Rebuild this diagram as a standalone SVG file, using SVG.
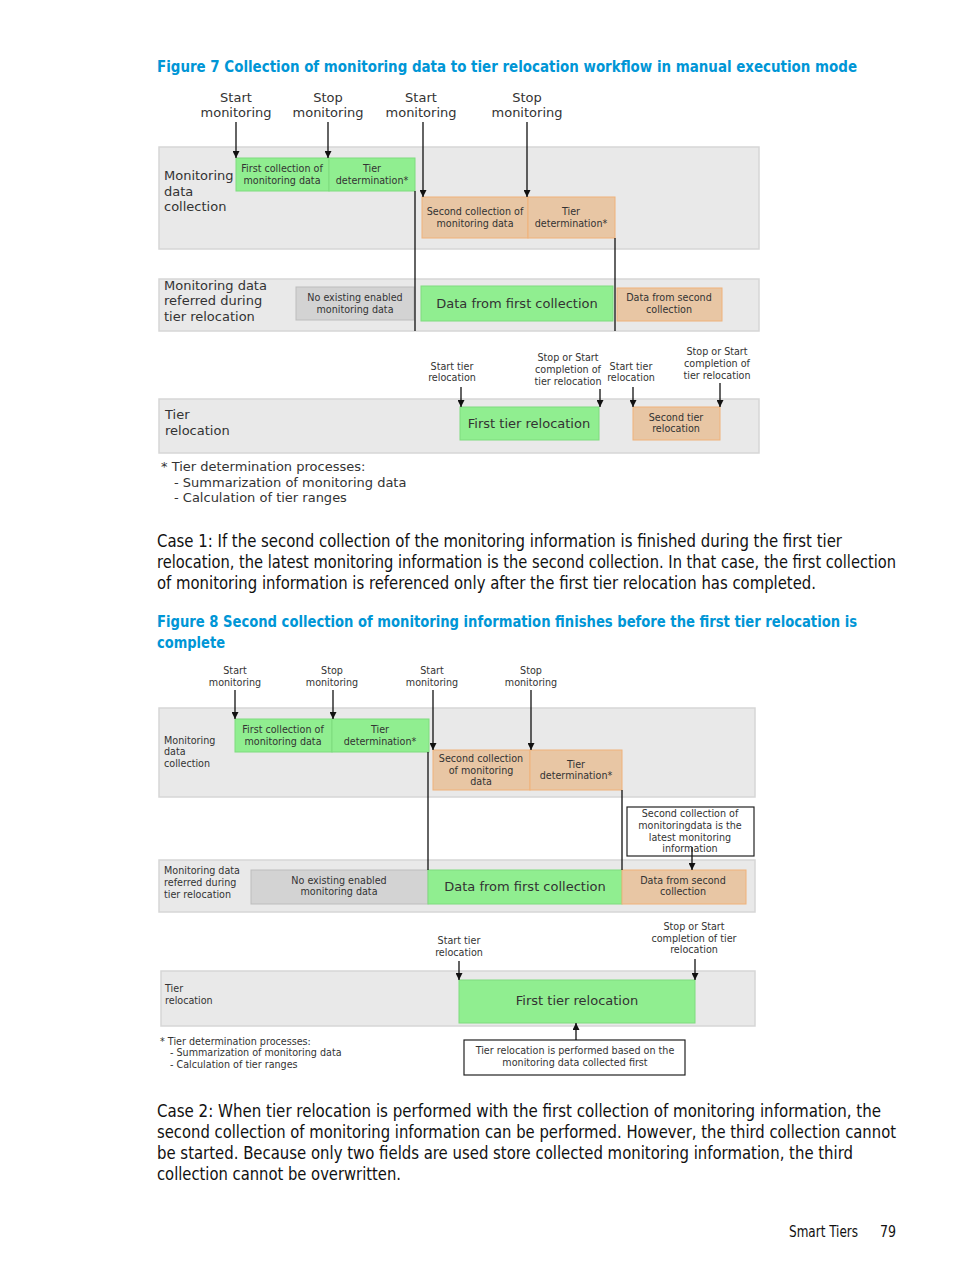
<svg xmlns="http://www.w3.org/2000/svg" width="954" height="1271" viewBox="0 0 954 1271">
<style>
.bg{fill:#fff}
.lane{fill:#e9e9e9;stroke:#d6d6d6;stroke-width:1.5}
.g{fill:#90ee90;stroke:#7fdc7f;stroke-width:1}
.o{fill:#e8c6a4;stroke:#f0b27a;stroke-width:1}
.gr{fill:#d3d3d3;stroke:#bdbdbd;stroke-width:1}
.call{fill:#fff;stroke:#222;stroke-width:1.2}
.t{font-family:"DejaVu Sans",Verdana,sans-serif;fill:#333}
.s13{font-size:13px}
.s10{font-size:9.6px}
.m{text-anchor:middle}
.ln{stroke:#111;stroke-width:1.3;fill:none}
.body{font-family:"Liberation Sans Narrow","DejaVu Sans Condensed","Liberation Sans",sans-serif;font-size:17.5px;fill:#111}
.title{font-family:"Liberation Sans Narrow","DejaVu Sans Condensed","Liberation Sans",sans-serif;font-size:16px;font-weight:bold;fill:#0096d6}
</style>
<defs>
<marker id="ah" viewBox="0 0 10 10" refX="10" refY="5" markerWidth="7" markerHeight="7" markerUnits="userSpaceOnUse" orient="auto">
<path d="M0,0 L10,5 L0,10 z" fill="#111"/>
</marker>
</defs>
<rect class="bg" x="0" y="0" width="954" height="1271"/>

<!-- Page text -->
<g id="page-text">
<text class="title" x="157" y="72" textLength="700" lengthAdjust="spacingAndGlyphs">Figure 7 Collection of monitoring data to tier relocation workflow in manual execution mode</text>
<text class="body" x="157" y="547" textLength="685" lengthAdjust="spacingAndGlyphs">Case 1: If the second collection of the monitoring information is finished during the first tier</text>
<text class="body" x="157" y="568" textLength="739" lengthAdjust="spacingAndGlyphs">relocation, the latest monitoring information is the second collection. In that case, the first collection</text>
<text class="body" x="157" y="589" textLength="659" lengthAdjust="spacingAndGlyphs">of monitoring information is referenced only after the first tier relocation has completed.</text>
<text class="title" x="157" y="627" textLength="700" lengthAdjust="spacingAndGlyphs">Figure 8 Second collection of monitoring information finishes before the first tier relocation is</text>
<text class="title" x="157" y="648" textLength="68" lengthAdjust="spacingAndGlyphs">complete</text>
<text class="body" x="157" y="1117" textLength="724" lengthAdjust="spacingAndGlyphs">Case 2: When tier relocation is performed with the first collection of monitoring information, the</text>
<text class="body" x="157" y="1138" textLength="739" lengthAdjust="spacingAndGlyphs">second collection of monitoring information can be performed. However, the third collection cannot</text>
<text class="body" x="157" y="1159" textLength="696" lengthAdjust="spacingAndGlyphs">be started. Because only two fields are used store collected monitoring information, the third</text>
<text class="body" x="157" y="1180" textLength="244" lengthAdjust="spacingAndGlyphs">collection cannot be overwritten.</text>
<text class="body" x="789" y="1237" style="font-size:15px" textLength="69" lengthAdjust="spacingAndGlyphs">Smart Tiers</text>
<text class="body" x="880" y="1237" style="font-size:15px" textLength="16" lengthAdjust="spacingAndGlyphs">79</text>
</g>

<!-- ===== Figure 7 ===== -->
<g id="fig7-lanes">
<rect class="lane" x="159" y="147" width="600" height="102"/>
<rect class="lane" x="159" y="279" width="600" height="52"/>
<rect class="lane" x="159" y="399" width="600" height="54"/>
<text class="t s13" x="164" y="180">Monitoring</text>
<text class="t s13" x="164" y="196">data</text>
<text class="t s13" x="164" y="211">collection</text>
<text class="t s13" x="164" y="290">Monitoring data</text>
<text class="t s13" x="164" y="305">referred during</text>
<text class="t s13" x="164" y="321">tier relocation</text>
<text class="t s13" x="165" y="419">Tier</text>
<text class="t s13" x="165" y="435">relocation</text>
</g>

<g id="fig7-labels">
<text class="t s13 m" x="236" y="102">Start</text><text class="t s13 m" x="236" y="117">monitoring</text>
<text class="t s13 m" x="328" y="102">Stop</text><text class="t s13 m" x="328" y="117">monitoring</text>
<text class="t s13 m" x="421" y="102">Start</text><text class="t s13 m" x="421" y="117">monitoring</text>
<text class="t s13 m" x="527" y="102">Stop</text><text class="t s13 m" x="527" y="117">monitoring</text>
<text class="t s10 m" x="452" y="370">Start tier</text><text class="t s10 m" x="452" y="381">relocation</text>
<text class="t s10 m" x="568" y="361">Stop or Start</text><text class="t s10 m" x="568" y="373">completion of</text><text class="t s10 m" x="568" y="385">tier relocation</text>
<text class="t s10 m" x="631" y="370">Start tier</text><text class="t s10 m" x="631" y="381">relocation</text>
<text class="t s10 m" x="717" y="355">Stop or Start</text><text class="t s10 m" x="717" y="367">completion of</text><text class="t s10 m" x="717" y="379">tier relocation</text>
<text class="t s13" x="161" y="471">* Tier determination processes:</text>
<text class="t s13" x="174" y="487">- Summarization of monitoring data</text>
<text class="t s13" x="174" y="502">- Calculation of tier ranges</text>
</g>

<g id="fig7-first-collection">
<rect class="g" x="236" y="158" width="93" height="33"/>
<text class="t s10 m" x="282" y="172">First collection of</text>
<text class="t s10 m" x="282" y="184">monitoring data</text>
</g>
<g id="fig7-tier-det1">
<rect class="g" x="329" y="158" width="86" height="33"/>
<text class="t s10 m" x="372" y="172">Tier</text>
<text class="t s10 m" x="372" y="184">determination*</text>
</g>
<g id="fig7-second-collection">
<rect class="o" x="422" y="197" width="106" height="41"/>
<text class="t s10 m" x="475" y="215">Second collection of</text>
<text class="t s10 m" x="475" y="227">monitoring data</text>
</g>
<g id="fig7-tier-det2">
<rect class="o" x="528" y="197" width="87" height="41"/>
<text class="t s10 m" x="571" y="215">Tier</text>
<text class="t s10 m" x="571" y="227">determination*</text>
</g>
<g id="fig7-no-data">
<rect class="gr" x="296" y="287" width="118" height="33"/>
<text class="t s10 m" x="355" y="301">No existing enabled</text>
<text class="t s10 m" x="355" y="313">monitoring data</text>
</g>
<g id="fig7-data-first">
<rect class="g" x="421" y="286" width="192" height="35"/>
<text class="t s13 m" x="517" y="308">Data from first collection</text>
</g>
<g id="fig7-data-second">
<rect class="o" x="617" y="288" width="105" height="33"/>
<text class="t s10 m" x="669" y="301">Data from second</text>
<text class="t s10 m" x="669" y="313">collection</text>
</g>
<g id="fig7-first-reloc">
<rect class="g" x="460" y="407" width="139" height="33"/>
<text class="t s13 m" x="529" y="428">First tier relocation</text>
</g>
<g id="fig7-second-reloc">
<rect class="o" x="633" y="407" width="87" height="33"/>
<text class="t s10 m" x="676" y="421">Second tier</text>
<text class="t s10 m" x="676" y="432">relocation</text>
</g>

<g id="fig7-connectors">
<line class="ln" x1="236" y1="122" x2="236" y2="158" marker-end="url(#ah)"/>
<line class="ln" x1="328" y1="122" x2="328" y2="158" marker-end="url(#ah)"/>
<line class="ln" x1="423" y1="122" x2="423" y2="197" marker-end="url(#ah)"/>
<line class="ln" x1="527" y1="122" x2="527" y2="197" marker-end="url(#ah)"/>
<line class="ln" x1="415" y1="191" x2="415" y2="331"/>
<line class="ln" x1="615" y1="238" x2="615" y2="331"/>
<line class="ln" x1="461" y1="387" x2="461" y2="407" marker-end="url(#ah)"/>
<line class="ln" x1="600" y1="389" x2="600" y2="407" marker-end="url(#ah)"/>
<line class="ln" x1="633" y1="387" x2="633" y2="407" marker-end="url(#ah)"/>
<line class="ln" x1="720" y1="383" x2="720" y2="407" marker-end="url(#ah)"/>
</g>

<!-- ===== Figure 8 ===== -->
<g id="fig8-lanes">
<rect class="lane" x="159" y="708" width="596" height="89"/>
<rect class="lane" x="159" y="860" width="596" height="52"/>
<rect class="lane" x="161" y="971" width="594" height="55"/>
<text class="t s10" x="164" y="744">Monitoring</text>
<text class="t s10" x="164" y="755">data</text>
<text class="t s10" x="164" y="767">collection</text>
<text class="t s10" x="164" y="874">Monitoring data</text>
<text class="t s10" x="164" y="886">referred during</text>
<text class="t s10" x="164" y="898">tier relocation</text>
<text class="t s10" x="165" y="992">Tier</text>
<text class="t s10" x="165" y="1004">relocation</text>
</g>

<g id="fig8-labels">
<text class="t s10 m" x="235" y="674">Start</text><text class="t s10 m" x="235" y="686">monitoring</text>
<text class="t s10 m" x="332" y="674">Stop</text><text class="t s10 m" x="332" y="686">monitoring</text>
<text class="t s10 m" x="432" y="674">Start</text><text class="t s10 m" x="432" y="686">monitoring</text>
<text class="t s10 m" x="531" y="674">Stop</text><text class="t s10 m" x="531" y="686">monitoring</text>
<text class="t s10 m" x="459" y="944">Start tier</text><text class="t s10 m" x="459" y="956">relocation</text>
<text class="t s10 m" x="694" y="930">Stop or Start</text><text class="t s10 m" x="694" y="942">completion of tier</text><text class="t s10 m" x="694" y="953">relocation</text>
<text class="t s10" x="160" y="1045">* Tier determination processes:</text>
<text class="t s10" x="170" y="1056">- Summarization of monitoring data</text>
<text class="t s10" x="170" y="1068">- Calculation of tier ranges</text>
</g>

<g id="fig8-first-collection">
<rect class="g" x="235" y="719" width="97" height="33"/>
<text class="t s10 m" x="283" y="733">First collection of</text>
<text class="t s10 m" x="283" y="745">monitoring data</text>
</g>
<g id="fig8-tier-det1">
<rect class="g" x="332" y="719" width="97" height="33"/>
<text class="t s10 m" x="380" y="733">Tier</text>
<text class="t s10 m" x="380" y="745">determination*</text>
</g>
<g id="fig8-second-collection">
<rect class="o" x="433" y="750" width="97" height="40"/>
<text class="t s10 m" x="481" y="762">Second collection</text>
<text class="t s10 m" x="481" y="774">of monitoring</text>
<text class="t s10 m" x="481" y="785">data</text>
</g>
<g id="fig8-tier-det2">
<rect class="o" x="530" y="750" width="92" height="40"/>
<text class="t s10 m" x="576" y="768">Tier</text>
<text class="t s10 m" x="576" y="779">determination*</text>
</g>
<g id="fig8-callout-latest">
<rect class="call" x="627" y="807" width="127" height="49"/>
<text class="t s10 m" x="690" y="817">Second collection of</text>
<text class="t s10 m" x="690" y="829">monitoringdata is the</text>
<text class="t s10 m" x="690" y="841">latest monitoring</text>
<text class="t s10 m" x="690" y="852">information</text>
</g>
<g id="fig8-no-data">
<rect class="gr" x="251" y="870" width="177" height="34"/>
<text class="t s10 m" x="339" y="884">No existing enabled</text>
<text class="t s10 m" x="339" y="895">monitoring data</text>
</g>
<g id="fig8-data-first">
<rect class="g" x="428" y="870" width="194" height="34"/>
<text class="t s13 m" x="525" y="891">Data from first collection</text>
</g>
<g id="fig8-data-second">
<rect class="o" x="622" y="870" width="124" height="34"/>
<text class="t s10 m" x="683" y="884">Data from second</text>
<text class="t s10 m" x="683" y="895">collection</text>
</g>
<g id="fig8-first-reloc">
<rect class="g" x="459" y="980" width="236" height="43"/>
<text class="t s13 m" x="577" y="1005">First tier relocation</text>
</g>
<g id="fig8-callout-first">
<rect class="call" x="464" y="1040" width="221" height="35"/>
<text class="t s10 m" x="575" y="1054">Tier relocation is performed based on the</text>
<text class="t s10 m" x="575" y="1066">monitoring data collected first</text>
</g>

<g id="fig8-connectors">
<line class="ln" x1="235" y1="690" x2="235" y2="719" marker-end="url(#ah)"/>
<line class="ln" x1="333" y1="690" x2="333" y2="719" marker-end="url(#ah)"/>
<line class="ln" x1="433" y1="690" x2="433" y2="750" marker-end="url(#ah)"/>
<line class="ln" x1="531" y1="690" x2="531" y2="750" marker-end="url(#ah)"/>
<line class="ln" x1="428" y1="752" x2="428" y2="870"/>
<line class="ln" x1="622" y1="790" x2="622" y2="870"/>
<line class="ln" x1="692" y1="847" x2="692" y2="870" marker-end="url(#ah)"/>
<line class="ln" x1="459" y1="961" x2="459" y2="980" marker-end="url(#ah)"/>
<line class="ln" x1="695" y1="959" x2="695" y2="980" marker-end="url(#ah)"/>
<line class="ln" x1="576" y1="1040" x2="576" y2="1023" marker-end="url(#ah)"/>
</g>
</svg>
